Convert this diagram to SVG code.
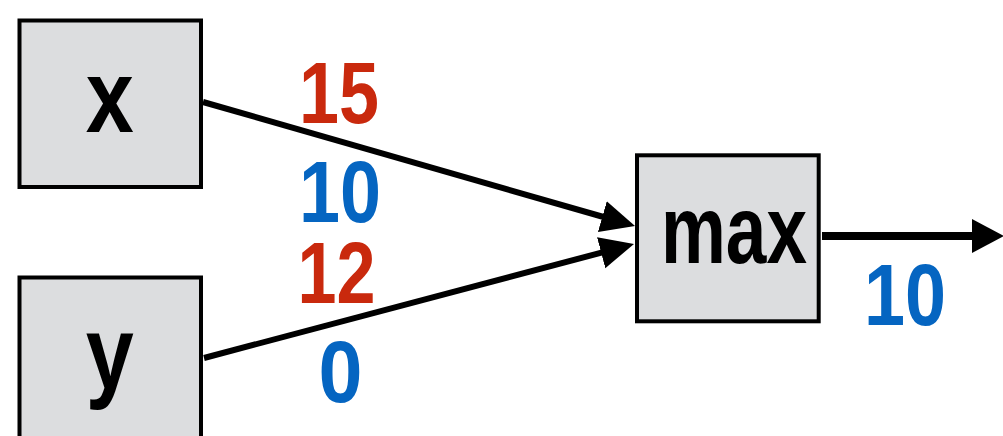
<svg xmlns="http://www.w3.org/2000/svg" width="1003" height="436" viewBox="0 0 1003 436">
<style>
.box{fill:#dcdddf;stroke:#000;stroke-width:4}
.lbl{font-family:"Liberation Sans",Arial,sans-serif;font-weight:bold;fill:#000;text-anchor:middle}
.num{font-family:"Liberation Sans",Arial,sans-serif;font-weight:bold;font-size:87px;text-anchor:middle}
.red{fill:#c9290d}
.blue{fill:#0565c1}
.edge{stroke:#000;fill:none}
</style>
<defs>
<marker id="ah" viewBox="0 -17 36 34" refX="14" refY="0" markerWidth="36" markerHeight="34" markerUnits="userSpaceOnUse" orient="auto">
<path d="M0,-16 L34,0 L0,16 z" fill="#000"/>
</marker>
<marker id="ah2" viewBox="0 -18 34 36" refX="12" refY="0" markerWidth="34" markerHeight="36" markerUnits="userSpaceOnUse" orient="auto">
<path d="M0,-17 L32,0 L0,17 z" fill="#000"/>
</marker>
</defs>
<g id="connectors">
<line class="edge" x1="203" y1="102" x2="615.8" y2="220.5" stroke-width="6" marker-end="url(#ah)"/>
<line class="edge" x1="204" y1="358" x2="614.7" y2="249.1" stroke-width="6" marker-end="url(#ah)"/>
<line class="edge" x1="822" y1="236" x2="984" y2="236" stroke-width="8" marker-end="url(#ah2)"/>
<text class="num red" x="339" y="122.7" textLength="80" lengthAdjust="spacingAndGlyphs">15</text>
<text class="num blue" x="340" y="222" textLength="82" lengthAdjust="spacingAndGlyphs">10</text>
<text class="num red" x="336.5" y="303" textLength="78" lengthAdjust="spacingAndGlyphs">12</text>
<text class="num blue" x="340.5" y="401.5" textLength="44" lengthAdjust="spacingAndGlyphs">0</text>
<text class="num blue" x="905" y="325" textLength="82" lengthAdjust="spacingAndGlyphs">10</text>
</g>
<g id="node-x">
<rect class="box" x="19.5" y="20.5" width="181.5" height="166.5"/>
<text class="lbl" x="109.7" y="132.3" font-size="104" textLength="48" lengthAdjust="spacingAndGlyphs">x</text>
</g>
<g id="node-y">
<rect class="box" x="19.5" y="277.5" width="181.5" height="170"/>
<text class="lbl" x="109.7" y="387.5" font-size="104" textLength="48" lengthAdjust="spacingAndGlyphs">y</text>
</g>
<g id="node-max">
<rect class="box" x="637" y="155.3" width="181.7" height="166"/>
<text class="lbl" x="734" y="263.3" font-size="96" textLength="146" lengthAdjust="spacingAndGlyphs">max</text>
</g>
</svg>
